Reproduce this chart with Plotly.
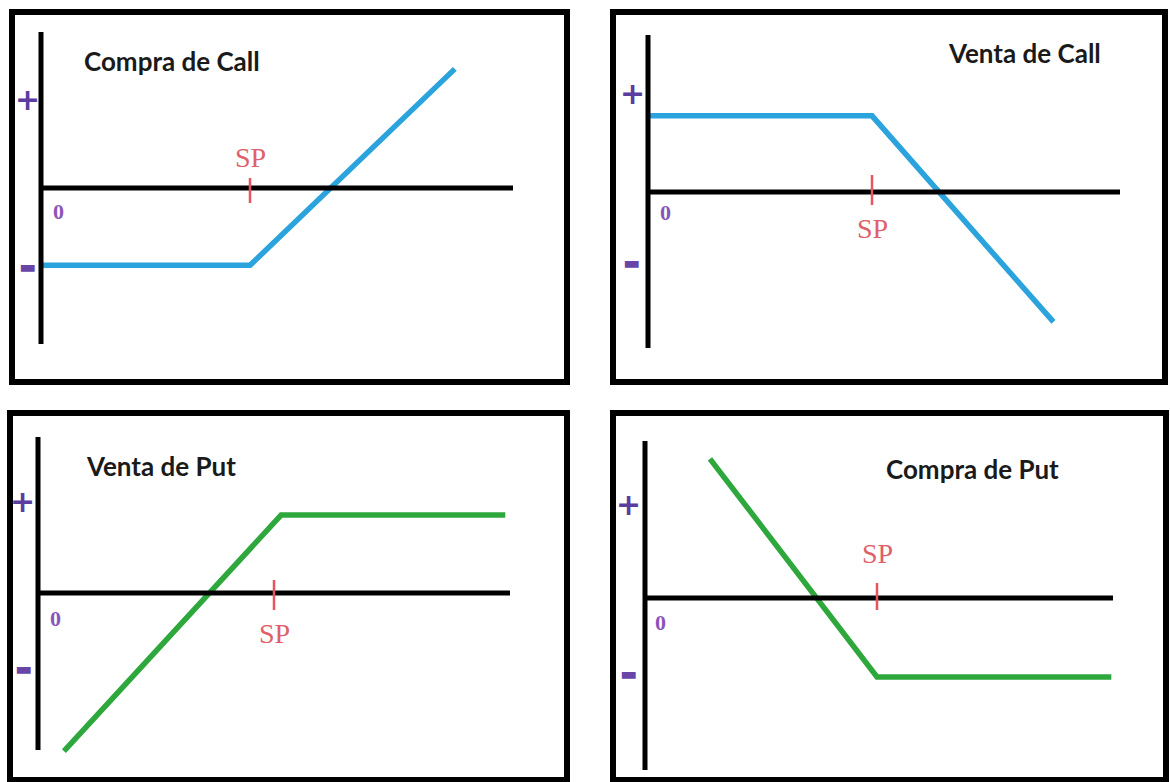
import plotly.graph_objects as go

W, H = 1170, 782

# ---- data (strike price = 100; profit in same units) ----
strike = 100
titles = ["Compra de Call", "Venta de Call", "Venta de Put", "Compra de Put"]
compra_call_x = [0, 100, 198]
compra_call_y = [-37, -37, 57]
venta_call_x = [0, 100, 181]
venta_call_y = [34, 34, -58]
venta_put_x = [11, 103, 198]
venta_put_y = [-67, 33, 33]
compra_put_x = [28, 100, 201]
compra_put_y = [60, -34, -34]
series_x = [compra_call_x, venta_call_x, venta_put_x, compra_put_x]
series_y = [compra_call_y, venta_call_y, venta_put_y, compra_put_y]
line_colors = ["#2ba3dd", "#2ba3dd", "#2ea83c", "#2ea83c"]

# ---- layout geometry (pixels) ----
panels = [
    dict(box=(12, 12, 567, 382), vax=41, hax=188, s=2.09, vt=32, vb=344, hend=513,
         title=(172, 61), plus=(27, 100), minus=(27, 266), zero=(58, 211),
         sp_label_dy=-31, tick=(10, -15)),
    dict(box=(613, 12, 1165, 382), vax=648, hax=192, s=2.24, vt=35, vb=348, hend=1120,
         title=(1024, 53), plus=(632, 93), minus=(631, 262), zero=(665, 212),
         sp_label_dy=36, tick=(17, -13)),
    dict(box=(10, 413, 567, 780), vax=38, hax=593, s=2.36, vt=437, vb=750, hend=510,
         title=(161, 466), plus=(22, 502), minus=(23, 668), zero=(55, 618),
         sp_label_dy=40, tick=(13, -17)),
    dict(box=(613, 413, 1166, 780), vax=645, hax=598, s=2.32, vt=441, vb=770, hend=1113,
         title=(972, 469), plus=(628, 505), minus=(628, 673), zero=(660, 622),
         sp_label_dy=-45, tick=(15, -12)),
]

fig = go.Figure()
shapes, annotations = [], []


def paper_text(pos, text, font):
    return dict(xref="paper", yref="paper", x=pos[0] / W, y=1 - pos[1] / H,
                xanchor="center", yanchor="middle", text=text, showarrow=False, font=font)


for i, p in enumerate(panels):
    n = "" if i == 0 else str(i + 1)
    xa, ya = "x" + n, "y" + n
    l, t, r, b = p["box"]
    s = p["s"]
    fig.update_layout(**{
        "xaxis" + n: dict(domain=[l / W, r / W], range=[(l - p["vax"]) / s, (r - p["vax"]) / s],
                          visible=False, fixedrange=True, anchor=ya),
        "yaxis" + n: dict(domain=[1 - b / H, 1 - t / H], range=[(p["hax"] - b) / s, (p["hax"] - t) / s],
                          visible=False, fixedrange=True, anchor=xa),
    })
    # panel border
    shapes.append(dict(type="rect", xref="paper", yref="paper", x0=l / W, x1=r / W,
                       y0=1 - b / H, y1=1 - t / H, line=dict(color="black", width=6), layer="above"))
    # axes
    shapes.append(dict(type="line", xref=xa, yref=ya, x0=0, x1=0,
                       y0=(p["hax"] - p["vb"]) / s, y1=(p["hax"] - p["vt"]) / s,
                       line=dict(color="black", width=5)))
    shapes.append(dict(type="line", xref=xa, yref=ya, x0=0, x1=(p["hend"] - p["vax"]) / s,
                       y0=0, y1=0, line=dict(color="black", width=5)))
    # strike tick
    shapes.append(dict(type="line", xref=xa, yref=ya, x0=strike, x1=strike,
                       y0=p["tick"][1] / s, y1=p["tick"][0] / s,
                       line=dict(color="#e8545e", width=2.5), layer="above"))
    # payoff line
    fig.add_trace(go.Scatter(x=series_x[i], y=series_y[i], mode="lines", xaxis=xa, yaxis=ya,
                             line=dict(color=line_colors[i], width=5.5), cliponaxis=False,
                             hoverinfo="skip", showlegend=False))
    # texts
    annotations.append(dict(xref=xa, yref=ya, x=strike, y=-p["sp_label_dy"] / s, text="SP",
                            xanchor="center", yanchor="middle", showarrow=False,
                            font=dict(family="Liberation Serif", size=28, color="#e0606a")))
    annotations.append(paper_text(p["title"], "<b>" + titles[i] + "</b>",
                                  dict(family="Lato", size=26, color="#1a1a1a")))
    annotations.append(paper_text(p["plus"], "<b>+</b>",
                                  dict(family="DejaVu Sans", size=30, color="#5a3d9e")))
    annotations.append(paper_text(p["minus"], "▬",
                                  dict(family="DejaVu Sans", size=18, color="#6a45a8")))
    annotations.append(paper_text(p["zero"], "<b>0</b>",
                                  dict(family="Liberation Serif", size=22, color="#8a55b8")))

fig.update_layout(width=W, height=H, margin=dict(l=0, r=0, t=0, b=0),
                  paper_bgcolor="white", plot_bgcolor="rgba(0,0,0,0)",
                  shapes=shapes, annotations=annotations, showlegend=False)

fig.write_html("out.html", config={"displayModeBar": False},
               post_script="document.body.style.margin='0';document.body.style.overflow='hidden';")
